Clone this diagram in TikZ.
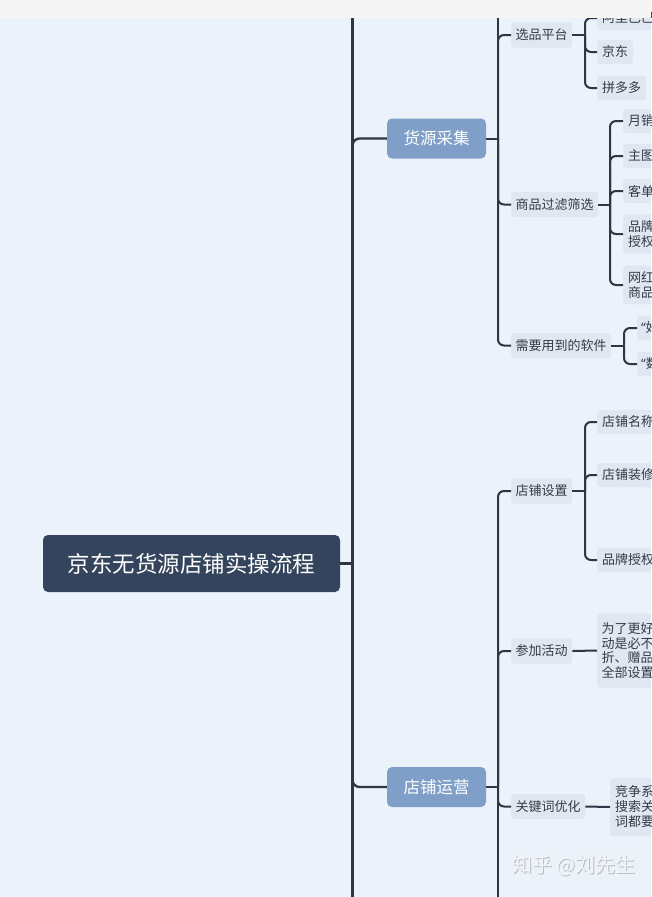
\documentclass[tikz,border=0pt]{standalone}
\usepackage{fontspec}
\setmainfont{Noto Sans CJK SC}
\newfontfamily\latinf{Noto Sans}
\definecolor{bgc}{HTML}{EBF2FA}
\definecolor{rootc}{HTML}{34445C}
\definecolor{lonec}{HTML}{7F9FC8}
\definecolor{boxc}{HTML}{E0E7F0}
\definecolor{txtc}{HTML}{333B45}
\definecolor{linec}{HTML}{2C3644}
\definecolor{barc}{HTML}{F5F5F5}
\definecolor{wmshadow}{HTML}{B9BEC5}
\definecolor{wmtext}{HTML}{F3F5F8}
\begin{document}
\begin{tikzpicture}[x=1pt,y=-1pt,
  conn/.style={draw=linec, line width=2pt, rounded corners=6pt},
  spine/.style={draw=linec, line width=2.3pt, rounded corners=7pt},
  rootbox/.style={fill=rootc, rounded corners=5pt, text=white, font=\fontsize{22.5}{26}\selectfont, minimum width=297pt, minimum height=57pt, inner sep=0pt},
  lonebox/.style={fill=lonec, rounded corners=5pt, text=white, font=\fontsize{16.5}{19}\selectfont, minimum width=99pt, minimum height=40pt, inner sep=0pt},
  ltwobox/.style={fill=boxc, rounded corners=3pt, text=txtc, font=\fontsize{13}{15}\selectfont, inner xsep=4.5pt, inner ysep=2pt, minimum height=25pt, anchor=west},
  lthreebox/.style={fill=boxc, rounded corners=3pt, text=txtc, font=\fontsize{13}{15}\selectfont, inner xsep=5pt, inner ysep=3pt, minimum height=24pt, anchor=west, align=left},
  wm/.style={font=\fontsize{20}{22}\selectfont, anchor=west, inner sep=0pt}
]
\useasboundingbox (0,0) rectangle (651,897);
\clip (0,0) rectangle (651,897);
\fill[bgc] (0,0) rectangle (651,897);

% root and level 1
\node[rootbox] (root) at (191.5,563.5) {京东无货源店铺实操流程};
\node[lonebox] (hy) at (436.5,138.5) {货源采集};
\node[lonebox] (yy) at (436.5,787) {店铺运营};

% level 2
\node[ltwobox] (xp) at (511,35) {选品平台};
\node[ltwobox] (gl) at (511,204.5) {商品过滤筛选};
\node[ltwobox] (rj) at (511,345.5) {需要用到的软件};
\node[ltwobox] (dp) at (511,491) {店铺设置};
\node[ltwobox] (hd) at (511,651) {参加活动};
\node[ltwobox] (gj) at (511,806.5) {关键词优化};

% level 3
\node[lthreebox] (al) at (597,18) {阿里巴巴};
\node[lthreebox] (jd) at (597,52) {京东};
\node[lthreebox] (pdd) at (597,88) {拼多多};
\node[lthreebox] (yx) at (623,121) {月销};
\node[lthreebox] (zt) at (623,156) {主图};
\node[lthreebox] (kd) at (623,191) {客单};
\node[lthreebox, inner ysep=6pt] (pp) at (623,234) {品牌\\授权};
\node[lthreebox, inner ysep=6pt] (wh) at (623,285) {网红\\商品};
\node[lthreebox, inner xsep=4pt] (rh) at (637,328) {{\latinf “}好};
\node[lthreebox, inner xsep=4pt] (rs) at (637,364) {{\latinf “}数};
\node[lthreebox] (mc) at (597,422) {店铺名称};
\node[lthreebox] (zx) at (597,475) {店铺装修};
\node[lthreebox] (sq) at (597,560) {品牌授权};
\node[lthreebox, font=\fontsize{13}{14.7}\selectfont, inner xsep=4.5pt, inner ysep=9pt] (hdc) at (597,650.5) {为了更好\\动是必不\\折、赠品\\全部设置};
\node[lthreebox, inner ysep=8pt] (gjc) at (610,807) {竞争系\\搜索关\\词都要};

% spine
\coordinate (sp) at (352.5,563.5);
\coordinate (sptop) at (352.5,0);
\coordinate (spbot) at (352.5,897);
\draw[spine] (sptop) -- (spbot);
\draw[spine] (root.east) -- (sp);
\draw[spine] (sp) |- (hy.west);
\draw[spine] (sp) |- (yy.west);

% level 1 -> level 2
\coordinate (ja) at (498,138.5);
\coordinate (jatop) at (498,0);
\draw[conn] (hy.east) -- (ja);
\draw[conn] (ja) |- (xp.west);
\draw[conn] (ja) |- (gl.west);
\draw[conn] (ja) |- (rj.west);
\draw[conn] (ja) -- (jatop);
\coordinate (jb) at (498,787);
\coordinate (jbbot) at (498,897);
\draw[conn] (yy.east) -- (jb);
\draw[conn] (jb) |- (dp.west);
\draw[conn] (jb) |- (hd.west);
\draw[conn] (jb) |- (gj.west);
\draw[conn] (jb) -- (jbbot);

% level 2 -> level 3
\coordinate (ka) at (585,35);
\draw[conn] (xp.east) -- (ka);
\foreach \c in {al,jd,pdd} \draw[conn] (ka) |- (\c.west);
\coordinate (kb) at (610,204.5);
\draw[conn] (gl.east) -- (kb);
\foreach \c in {yx,zt,kd,pp,wh} \draw[conn] (kb) |- (\c.west);
\coordinate (kc) at (624,345.5);
\draw[conn] (rj.east) -- (kc);
\foreach \c in {rh,rs} \draw[conn] (kc) |- (\c.west);
\coordinate (kd) at (585,491);
\draw[conn] (dp.east) -- (kd);
\foreach \c in {mc,zx,sq} \draw[conn] (kd) |- (\c.west);
\draw[conn] (hd.east) -- (hdc.west);
\draw[conn] (gj.east) -- (gjc.west);

% watermark
\node[wm, text=wmshadow] (wms) at (512.8,866.8) {知乎 @刘先生};
\node[wm, text=wmtext] (wmt) at (512,866) {知乎 @刘先生};

% top bar
\fill[barc] (0,0) rectangle (651,17.5);
\end{tikzpicture}
\end{document}
